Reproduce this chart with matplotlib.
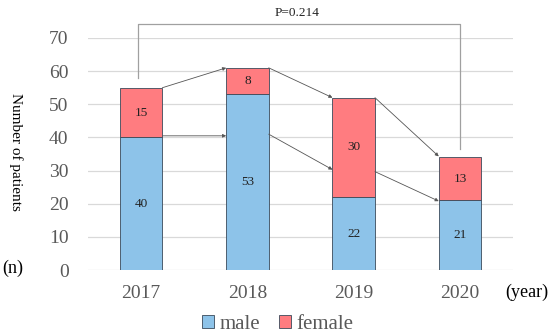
import numpy as np
import matplotlib.pyplot as plt
from matplotlib.patches import Patch

years = ["2017", "2018", "2019", "2020"]
male = [40, 53, 22, 21]
female = [15, 8, 30, 13]
# arrow links: (from bar, from value, to bar, to value)
links = [(0, 55, 1, 61), (0, 40.5, 1, 40.5), (1, 61, 2, 52), (1, 41, 2, 30.3), (2, 52, 3, 34.3), (2, 29.7, 3, 20.8)]
p_text = "P=0.214"

plt.rcParams['font.family'] = ['Liberation Serif', 'DejaVu Serif']

fig = plt.figure(figsize=(5.5, 3.36), dpi=100)
ax = fig.add_axes([0.16, 0.196, 0.773, 0.691])

x = np.arange(len(years))
w = 0.4
blue = "#8DC3E9"
red = "#FF7C80"
ax.bar(x, male, w, color=blue, edgecolor="#3A4A5A", linewidth=0.6, zorder=3)
ax.bar(x, female, w, bottom=male, color=red, edgecolor="#3A4A5A", linewidth=0.6, zorder=3)

for i in range(len(years)):
    ax.text(x[i], male[i] / 2, str(male[i]), ha="center", va="center", fontsize=9.5, color="#222222", zorder=4)
    ax.text(x[i], male[i] + female[i] / 2, str(female[i]), ha="center", va="center", fontsize=9.5, color="#222222", zorder=4)

for a, ya, b, yb in links:
    ax.annotate("", xy=(b - w / 2, yb), xytext=(a + w / 2, ya),
                arrowprops=dict(arrowstyle="-|>", color="#555555", lw=0.6, mutation_scale=5,
                                shrinkA=0, shrinkB=0), zorder=5)

# bracket over the chart
top = 74.2
ax.plot([x[0] - 0.03, x[0] - 0.03, x[3], x[3]], [58, top, top, 36.5], color="#A0A0A0", lw=0.9,
        clip_on=False, zorder=2)
ax.text(1.47, top + 1.5, p_text, ha="center", va="bottom", fontsize=9.5, color="#222222")

ax.set_xlim(-0.5, 3.5)
ax.set_ylim(0, 70)
ax.set_yticks(range(0, 71, 10))
ax.set_xticks(x)
ax.set_xticklabels(years)
ax.tick_params(axis="y", length=0, labelsize=14, labelcolor="#595959", pad=14)
ax.tick_params(axis="x", length=0, labelsize=14, labelcolor="#595959", pad=11)
ax.grid(axis="y", color="#D9D9D9", lw=0.9, zorder=0)
for s in ax.spines.values():
    s.set_visible(False)

fig.text(0.029, 0.548, "Number of patients", rotation=270, ha="center", va="center", fontsize=11)
fig.text(0.024, 0.2, "(n)", ha="center", va="center", fontsize=13)
fig.text(0.957, 0.13, "(year)", ha="center", va="center", fontsize=13)

handles = [Patch(facecolor=blue, edgecolor="#3A4A5A", lw=0.6), Patch(facecolor=red, edgecolor="#3A4A5A", lw=0.6)]
fig.legend(handles, ["male", "female"], loc="center", bbox_to_anchor=(0.505, 0.035), ncol=2, frameon=False,
           prop={"family": "Liberation Serif", "size": 15}, handlelength=0.6, handleheight=0.6,
           handletextpad=0.25, columnspacing=0.9, labelcolor="#595959")

fig.savefig("out.png", dpi=100)
